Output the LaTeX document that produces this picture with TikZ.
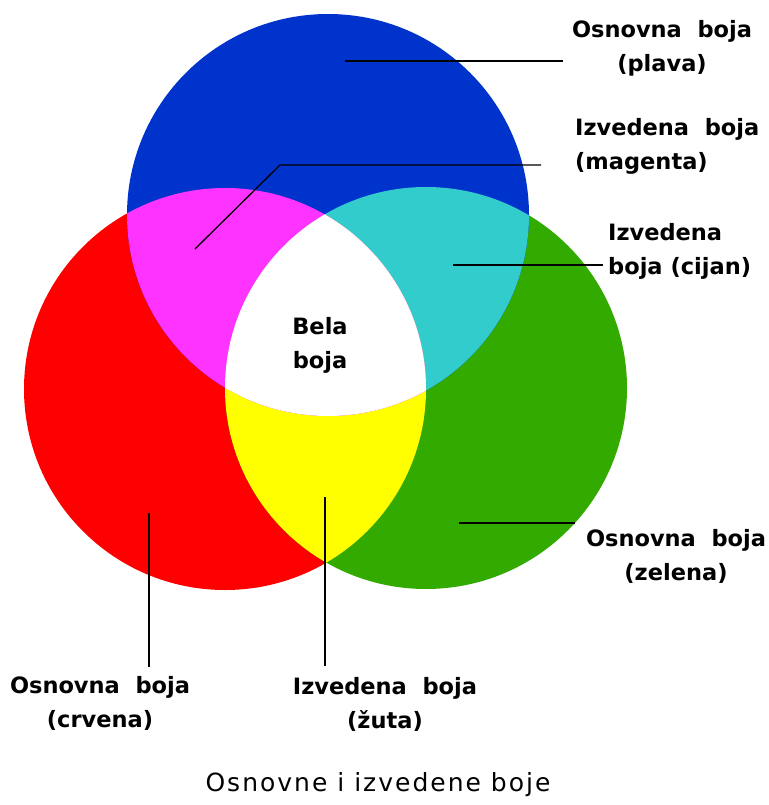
\documentclass[tikz,border=0pt]{standalone}
\usepackage{fontspec}
\setmainfont{DejaVu Sans}
\newfontfamily\titlefont[LetterSpace=8]{DejaVu Sans}
\definecolor{PlavaColor}{RGB}{0,51,204}
\definecolor{CrvenaColor}{RGB}{255,0,0}
\definecolor{ZelenaColor}{RGB}{51,170,0}
\definecolor{MagentaColor}{RGB}{255,51,255}
\definecolor{CijanColor}{RGB}{51,204,204}
\definecolor{ZutaColor}{RGB}{255,255,0}
\usetikzlibrary{positioning}

\begin{document}
\begin{tikzpicture}[x=1pt, y=-1pt,
    boja label/.style={font=\fontsize{22.5}{34}\selectfont\bfseries, inner sep=0pt},
    pointer/.style={line width=2pt, black}]
  \useasboundingbox (0,0) rectangle (768,805);
  \def\rad{201pt}
  \coordinate (cPlava) at (328,215);
  \coordinate (cCrvena) at (225,389);
  \coordinate (cZelena) at (426,388);
  % osnovne boje
  \fill[CrvenaColor] (cCrvena) circle (\rad);
  \fill[ZelenaColor] (cZelena) circle (\rad);
  \fill[PlavaColor] (cPlava) circle (\rad);
  % izvedene boje
  \begin{scope}
    \clip (cZelena) circle (\rad);
    \fill[CijanColor] (cPlava) circle (\rad);
    \fill[ZutaColor] (cCrvena) circle (\rad);
  \end{scope}
  \begin{scope}
    \clip (cCrvena) circle (\rad);
    \fill[MagentaColor] (cPlava) circle (\rad);
  \end{scope}
  \begin{scope}
    \clip (cCrvena) circle (\rad);
    \clip (cZelena) circle (\rad);
    \fill[white] (cPlava) circle (\rad);
  \end{scope}
  % natpisi
  \node[boja label, align=center] (plava) at (662,48) {Osnovna~ boja\\(plava)};
  \node[boja label, align=left, anchor=west] (magenta) at (575,146) {Izvedena~ boja\\(magenta)};
  \node[boja label, align=left, anchor=west] (cijan) at (608,251) {Izvedena\\boja (cijan)};
  \node[boja label, align=center] (zelena) at (676,556) {Osnovna~ boja\\(zelena)};
  \node[boja label, align=center] (crvena) at (100,703) {Osnovna~ boja\\(crvena)};
  \node[boja label, align=center] (zuta) at (385,704) {Izvedena~ boja\\(žuta)};
  \node[boja label, align=center] (bela) at (320,345) {Bela\\boja};
  \node[font=\titlefont\fontsize{25}{30}\selectfont, inner sep=0pt] (naslov) at (378,785) {Osnovne i izvedene boje};
  % pokazivaci
  \coordinate (pPlava) at (345,61);
  \coordinate (ePlava) at (563,61);
  \coordinate (pMagenta) at (195,249);
  \coordinate (kMagenta) at (280,165);
  \coordinate (eMagenta) at (541,165);
  \coordinate (pCijan) at (453,265);
  \coordinate (eCijan) at (603,265);
  \coordinate (pZelena) at (459,523);
  \coordinate (eZelena) at (575,523);
  \coordinate (pCrvena) at (149,513);
  \coordinate (eCrvena) at (149,667);
  \coordinate (pZuta) at (325,497);
  \coordinate (eZuta) at (325,666);
  \draw[pointer] (pPlava) -- (ePlava);
  \draw[pointer, line width=1.3pt] (pMagenta) -- (kMagenta) -- (eMagenta);
  \draw[pointer] (pCijan) -- (eCijan);
  \draw[pointer] (pZelena) -- (eZelena);
  \draw[pointer] (pCrvena) -- (eCrvena);
  \draw[pointer] (pZuta) -- (eZuta);
\end{tikzpicture}
\end{document}
